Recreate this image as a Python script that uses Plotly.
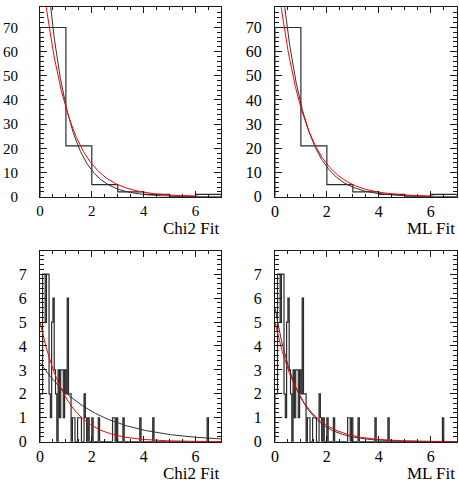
import numpy as np
import plotly.graph_objects as go

# ---- data -------------------------------------------------------------
# coarse histogram: 7 bins of width 1 on [0, 7]
coarse_edges = [0, 1, 2, 3, 4, 5, 6, 7]
coarse_counts = [70, 21, 5, 2, 1, 0, 1]

# fine histogram: 140 bins of width 0.05 on [0, 7]
fine_lo, fine_hi, fine_width = 0.0, 7.0, 0.05
fine_counts = [
    # 0 - 1
    2, 2, 7, 7, 5, 7, 7, 2, 1, 5, 6, 3, 2, 0, 3, 1, 3, 3, 1, 3,
    # 1 - 2
    2, 6, 2, 2, 0, 1, 1, 0, 0, 1, 1, 1, 0, 0, 2, 1, 0, 1, 0, 0,
    # 2 - 3
    1, 0, 0, 0, 0, 1, 0, 0, 0, 0, 0, 0, 0, 0, 0, 0, 1, 1, 0, 1,
    # 3 - 4
    0, 0, 0, 0, 1, 0, 0, 0, 0, 0, 0, 0, 0, 0, 0, 0, 0, 1, 0, 0,
    # 4 - 5
    0, 0, 0, 0, 0, 0, 0, 1, 0, 0, 0, 0, 0, 0, 0, 0, 0, 0, 0, 0,
    # 5 - 6
    0, 0, 0, 0, 0, 0, 0, 0, 0, 0, 0, 0, 0, 0, 0, 0, 0, 0, 0, 0,
    # 6 - 7
    0, 0, 0, 0, 0, 0, 0, 0, 0, 1, 0, 0, 0, 0, 0, 0, 0, 0, 0, 0,
]

# exponential curves  f(x) = norm * exp(-slope * x)
coarse_chi2_fit = (130.0, 1.24)
coarse_ml_fit = (120.0, 1.14)
coarse_true = (100.0, 1.0)
fine_chi2_fit = (3.3, 0.48)
fine_ml_fit = (5.6, 1.12)
fine_true = (5.0, 1.0)

panel_titles = ["Chi2 Fit", "ML Fit", "Chi2 Fit", "ML Fit"]

# ---- geometry (pixels) ------------------------------------------------
W, H = 459, 487
panels = [  # x0, x1, y_top, y_bottom
    (36.3, 219.3, 7.3, 200.4),
    (273.3, 456.7, 7.3, 200.4),
    (36.3, 219.3, 255.7, 450.0),
    (273.3, 456.7, 255.7, 450.0),
]

FONT = "Liberation Serif"
INK = "#1a1a1a"


def step_outline(edges, counts):
    xs = [edges[0]]
    ys = [0]
    for i, c in enumerate(counts):
        xs += [edges[i], edges[i + 1]]
        ys += [c, c]
    xs.append(edges[-1])
    ys.append(0)
    return xs, ys


def expo(params, x):
    norm, slope = params
    return norm * np.exp(-slope * x)


fine_edges = list(np.round(np.arange(fine_lo, fine_hi + fine_width / 2, fine_width), 4))

fig = go.Figure()

hist_sets = [
    (coarse_edges, coarse_counts, coarse_chi2_fit, coarse_true, 6.1),
    (coarse_edges, coarse_counts, coarse_ml_fit, coarse_true, 6.1),
    (fine_edges, fine_counts, fine_chi2_fit, fine_true, 7.0),
    (fine_edges, fine_counts, fine_ml_fit, fine_true, 7.0),
]

for i, (edges, counts, fit, truth, true_end) in enumerate(hist_sets):
    xa = "x" if i == 0 else f"x{i + 1}"
    ya = "y" if i == 0 else f"y{i + 1}"
    hx, hy = step_outline(edges, counts)
    fig.add_trace(go.Scatter(x=hx, y=hy, mode="lines", xaxis=xa, yaxis=ya,
                             line=dict(color="#2a2a2a", width=1.2), showlegend=False))
    xf = np.linspace(0, 7, 400)
    fig.add_trace(go.Scatter(x=xf, y=expo(fit, xf), mode="lines", xaxis=xa, yaxis=ya,
                             line=dict(color="#333333", width=1), showlegend=False))
    xt = np.linspace(0, true_end, 400)
    fig.add_trace(go.Scatter(x=xt, y=expo(truth, xt), mode="lines", xaxis=xa, yaxis=ya,
                             line=dict(color="#ff0000", width=1), showlegend=False))

layout = dict(
    width=W, height=H,
    margin=dict(l=0, r=0, t=0, b=0),
    paper_bgcolor="white", plot_bgcolor="white",
    showlegend=False,
)

y_ranges = [78.4, 78.4, 7.97, 7.97]
y_dticks = [10, 10, 1, 1]
y_minor = [2, 2, 0.2, 0.2]
label_size = [15, 16, 16, 16]
y_standoff = [18, 9, 9, 9]

for i, (x0, x1, yt, yb) in enumerate(panels):
    sx = "xaxis" if i == 0 else f"xaxis{i + 1}"
    sy = "yaxis" if i == 0 else f"yaxis{i + 1}"
    ya = "y" if i == 0 else f"y{i + 1}"
    xa = "x" if i == 0 else f"x{i + 1}"
    layout[sx] = dict(
        domain=[x0 / W, x1 / W], anchor=ya, range=[0, 7],
        showline=True, linecolor=INK, linewidth=1, mirror="allticks",
        ticks="inside", ticklen=6, tickwidth=1, tickcolor=INK,
        tick0=0, dtick=2,
        minor=dict(ticks="inside", dtick=0.5, ticklen=3, tickcolor=INK, tickwidth=1),
        showgrid=False, zeroline=False,
        tickfont=dict(family=FONT, size=label_size[i], color="black"),
    )
    layout[sy] = dict(
        domain=[1 - yb / H, 1 - yt / H], anchor=xa, range=[0, y_ranges[i]],
        showline=True, linecolor=INK, linewidth=1, mirror="allticks",
        ticks="inside", ticklen=7, tickwidth=1, tickcolor=INK,
        tick0=0, dtick=y_dticks[i],
        minor=dict(ticks="inside", dtick=y_minor[i], ticklen=4, tickcolor=INK, tickwidth=1),
        showgrid=False, zeroline=False,
        ticklabelstandoff=y_standoff[i],
        tickfont=dict(family=FONT, size=label_size[i], color="black"),
    )

fig.update_layout(**layout)

title_centers = [233, 233, 482, 482]
for i, (x0, x1, yt, yb) in enumerate(panels):
    fig.add_annotation(
        text=panel_titles[i], xref="paper", yref="paper",
        x=x1 / W, y=1 - title_centers[i] / H,
        xanchor="right", yanchor="middle", showarrow=False,
        font=dict(family=FONT, size=17, color="black"),
    )

fig.write_html("out.html")
